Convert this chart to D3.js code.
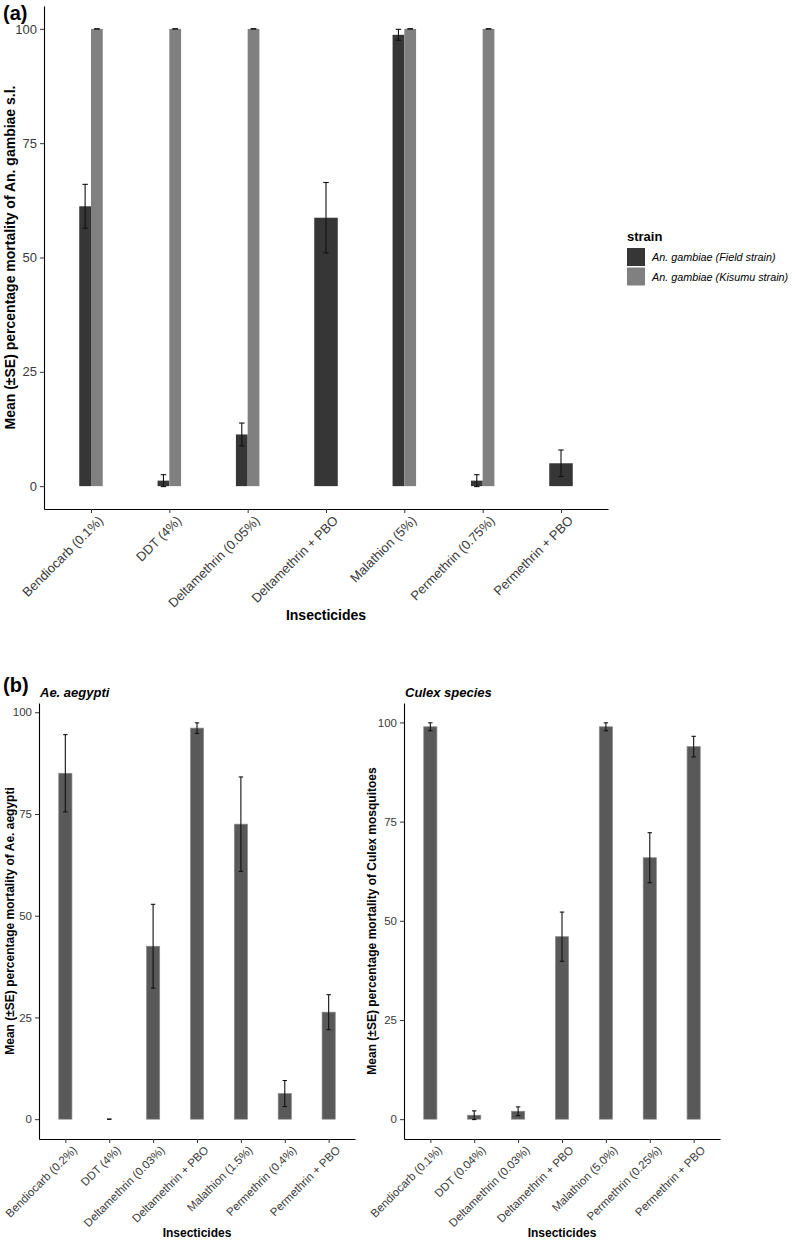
<!DOCTYPE html>
<html>
<head>
<meta charset="utf-8">
<script src="https://cdn.jsdelivr.net/npm/d3@7"></script>
<style>
  body { margin: 0; background: #fff; }
  text { font-family: "Liberation Sans", Arial, Helvetica, sans-serif; }
</style>
</head>
<body>
<div id="chart"></div>
<script>
// ---- data ----
const insecticidesA = ["Bendiocarb (0.1%)", "DDT (4%)", "Deltamethrin (0.05%)", "Deltamethrin + PBO",
  "Malathion (5%)", "Permethrin (0.75%)", "Permethrin + PBO"];
const fieldMean = [61.2, 1.2, 11.3, 58.7, 98.7, 1.2, 5.0];
const fieldSE = [4.8, 1.3, 2.5, 7.7, 1.2, 1.3, 2.9];
const kisumuMean = [100, 100, 100, null, 100, 100, null];
const kisumuSE = [0, 0, 0, null, 0, 0, null];
const strainNames = ["An. gambiae (Field strain)", "An. gambiae (Kisumu strain)"];

const insecticidesAe = ["Bendiocarb (0.2%)", "DDT (4%)", "Deltamethrin (0.03%)", "Deltamethrin + PBO",
  "Malathion (1.5%)", "Permethrin (0.4%)", "Permethrin + PBO"];
const aegyptiMean = [85.0, 0, 42.5, 96.1, 72.5, 6.3, 26.3];
const aegyptiSE = [9.5, 0, 10.3, 1.3, 11.6, 3.2, 4.3];

const insecticidesCx = ["Bendiocarb (0.1%)", "DDT (0.04%)", "Deltamethrin (0.03%)", "Deltamethrin + PBO",
  "Malathion (5.0%)", "Permethrin (0.25%)", "Permethrin + PBO"];
const culexMean = [98.9, 1.0, 2.0, 46.0, 98.9, 65.9, 93.9];
const culexSE = [1.0, 1.1, 1.1, 6.2, 1.0, 6.3, 2.6];

const yTicks = [0, 25, 50, 75, 100];

const svg = d3.select("#chart").append("svg")
  .attr("width", 795).attr("height", 1240)
  .style("display", "block");
svg.append("rect").attr("width", 795).attr("height", 1240).attr("fill", "#fff");

// generic ggplot-like bar panel with dodged bars + error bars
function drawPanel(opt) {
  const x = d3.scalePoint().domain(opt.categories).range(opt.xRange).padding(0.6);
  const step = x.step();

  // y domain: data range expanded by 5% each side
  let hi = 0;
  opt.series.forEach(s => s.mean.forEach((m, i) => {
    if (m != null) hi = Math.max(hi, m + s.se[i]);
  }));
  const pad = hi * 0.05;
  const y = d3.scaleLinear().domain([-pad, hi + pad]).range(opt.yRange);

  const g = svg.append("g");

  // bars
  opt.categories.forEach((c, i) => {
    const present = opt.series.filter(s => s.mean[i] != null);
    const w = step * 0.3 / present.length;
    present.forEach((s, k) => {
      const x0 = x(c) - step * 0.15 + k * w;
      g.append("rect")
        .attr("x", x0).attr("width", w)
        .attr("y", y(s.mean[i])).attr("height", y(0) - y(s.mean[i]))
        .attr("fill", s.fill)
        .attr("stroke", s.stroke || "none").attr("stroke-width", 0.7);
      const cx = x0 + w / 2, cap = step * opt.cap;
      const lo = y(s.mean[i] - s.se[i]), up = y(s.mean[i] + s.se[i]);
      const eb = g.append("g").attr("stroke", "#111").attr("stroke-width", 1.1);
      eb.append("line").attr("x1", cx).attr("x2", cx).attr("y1", lo).attr("y2", up);
      eb.append("line").attr("x1", cx - cap / 2).attr("x2", cx + cap / 2).attr("y1", lo).attr("y2", lo);
      eb.append("line").attr("x1", cx - cap / 2).attr("x2", cx + cap / 2).attr("y1", up).attr("y2", up);
    });
  });

  // axes
  const ya = g.append("g").attr("transform", "translate(" + opt.xRange[0] + ",0)")
    .call(d3.axisLeft(y).tickValues(yTicks).tickSize(4).tickSizeOuter(0).tickPadding(3));
  const xa = g.append("g").attr("transform", "translate(0," + opt.yRange[0] + ")")
    .call(d3.axisBottom(x).tickSize(4).tickSizeOuter(0).tickPadding(3));
  [ya, xa].forEach(a => {
    a.select(".domain").attr("stroke", "#000").attr("stroke-width", 1.1);
    a.selectAll(".tick line").attr("stroke", "#333");
    a.selectAll(".tick text").attr("fill", "#3a3a3a").style("font-size", opt.tickSize + "px")
      .style("font-family", "'Liberation Sans', Arial, sans-serif");
  });
  xa.selectAll(".tick text")
    .attr("text-anchor", "end")
    .attr("transform", "translate(2,2) rotate(-45)")
    .attr("dy", "0.6em").attr("dx", "0");

  // axis titles
  g.append("text")
    .attr("transform", "translate(" + opt.yTitleX + "," + ((opt.yRange[0] + opt.yRange[1]) / 2) + ") rotate(-90)")
    .attr("text-anchor", "middle").attr("dominant-baseline", "central")
    .style("font-size", opt.titleSize + "px").style("font-weight", "bold")
    .text(opt.yTitle);
  g.append("text")
    .attr("x", (opt.xRange[0] + opt.xRange[1]) / 2).attr("y", opt.xTitleY)
    .attr("text-anchor", "middle").attr("dominant-baseline", "central")
    .style("font-size", opt.titleSize + "px").style("font-weight", "bold")
    .text("Insecticides");
}

// ---- panel (a) ----
drawPanel({
  categories: insecticidesA,
  series: [
    { mean: fieldMean, se: fieldSE, fill: "#363636" },
    { mean: kisumuMean, se: kisumuSE, fill: "#808080" }
  ],
  xRange: [44, 608], yRange: [509, 6], cap: 0.07,
  tickSize: 13, titleSize: 14,
  yTitle: "Mean (\u00b1SE) percentage mortality of An. gambiae s.l.", yTitleX: 10,
  xTitleY: 615
});

svg.append("text").attr("x", 3).attr("y", 20)
  .style("font-size", "20px").style("font-weight", "bold").text("(a)");

// legend
const leg = svg.append("g").attr("transform", "translate(627,0)");
leg.append("text").attr("x", 0).attr("y", 241)
  .style("font-size", "13px").style("font-weight", "bold").text("strain");
[["#363636", strainNames[0]], ["#808080", strainNames[1]]].forEach((d, i) => {
  leg.append("rect").attr("x", 0).attr("y", 248 + i * 19.5).attr("width", 18).attr("height", 18)
    .attr("fill", d[0]);
  leg.append("text").attr("x", 25).attr("y", 257 + i * 19.5).attr("dominant-baseline", "central")
    .style("font-size", "10.8px").style("font-style", "italic").text(d[1]);
});

// ---- panel (b) ----
drawPanel({
  categories: insecticidesAe,
  series: [{ mean: aegyptiMean, se: aegyptiSE, fill: "#595959", stroke: "#8a8a8a" }],
  xRange: [39, 355], yRange: [1139, 703], cap: 0.1,
  tickSize: 11.5, titleSize: 12,
  yTitle: "Mean (\u00b1SE) percentage mortality of Ae. aegypti", yTitleX: 10,
  xTitleY: 1233
});
drawPanel({
  categories: insecticidesCx,
  series: [{ mean: culexMean, se: culexSE, fill: "#595959", stroke: "#8a8a8a" }],
  xRange: [404, 720], yRange: [1139, 703], cap: 0.1,
  tickSize: 11.5, titleSize: 12,
  yTitle: "Mean (\u00b1SE) percentage mortality of Culex mosquitoes", yTitleX: 372,
  xTitleY: 1233
});

svg.append("text").attr("x", 3).attr("y", 692)
  .style("font-size", "20px").style("font-weight", "bold").text("(b)");
svg.append("text").attr("x", 40).attr("y", 697)
  .style("font-size", "13px").style("font-weight", "bold").style("font-style", "italic").text("Ae. aegypti");
svg.append("text").attr("x", 405).attr("y", 697)
  .style("font-size", "13px").style("font-weight", "bold").style("font-style", "italic").text("Culex species");
</script>
</body>
</html>
